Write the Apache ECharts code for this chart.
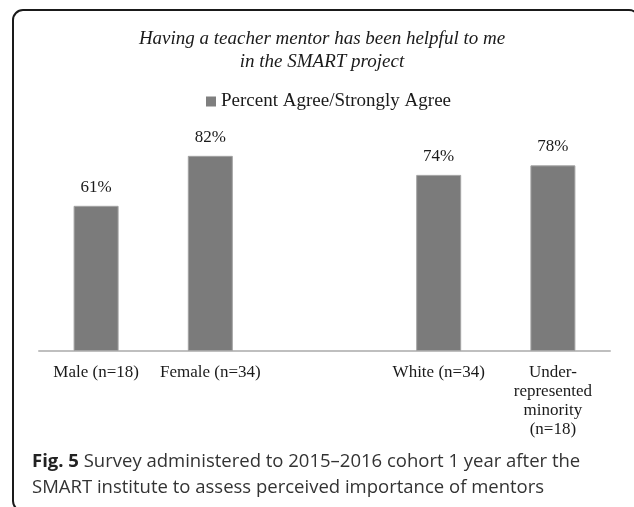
<!DOCTYPE html>
<html>
<head>
<meta charset="utf-8">
<style>
  html, body { margin: 0; padding: 0; background: #ffffff; }
  #chart { width: 634px; height: 507px; }
</style>
<script src="https://cdn.jsdelivr.net/npm/echarts@6/dist/echarts.min.js"></script>
</head>
<body>
<div id="chart"></div>
<script>
// Survey groups (the empty slot separates gender from ethnicity)
const categories = ['Male (n=18)', 'Female (n=34)', '', 'White (n=34)', 'Under-\nrepresented\nminority\n(n=18)'];
const percentAgree = [61, 82, null, 74, 78];
const seriesName = 'Percent Agree/Strongly Agree';
const titleLines = ['Having a teacher mentor has been helpful to me', 'in the SMART project'];
const captionBold = 'Fig. 5';
const captionLines = [' Survey administered to 2015\u20132016 cohort 1 year after the',
                      'SMART institute to assess perceived importance of mentors'];

const serif = '"Liberation Serif", "Times New Roman", serif';
const sans = '"Open Sans", "Noto Sans", sans-serif';

const chart = echarts.init(document.getElementById('chart'), null, { renderer: 'canvas' });

chart.setOption({
  backgroundColor: '#ffffff',
  animation: false,
  grid: { left: 39, right: 24, top: 113, bottom: 156, containLabel: false },
  legend: {
    data: [seriesName],
    left: 201,
    top: 87,
    icon: 'rect',
    itemWidth: 10,
    itemHeight: 10,
    itemGap: 4,
    itemStyle: { color: '#7f7f7f', borderWidth: 0 },
    textStyle: { fontFamily: serif, fontSize: 19, color: '#1a1a1a' }
  },
  xAxis: {
    type: 'category',
    data: categories,
    axisLine: { show: true, lineStyle: { color: '#bfbfbf', width: 2 } },
    axisTick: { show: false },
    axisLabel: {
      interval: 0,
      margin: 12,
      fontFamily: serif,
      fontSize: 17,
      lineHeight: 19,
      color: '#1a1a1a',
      align: 'center'
    }
  },
  yAxis: {
    type: 'value',
    min: 0,
    max: 100,
    show: false,
    splitLine: { show: false }
  },
  series: [{
    name: seriesName,
    type: 'bar',
    data: percentAgree,
    barWidth: 45,
    itemStyle: { color: '#7b7b7b', borderColor: '#a3a3a3', borderWidth: 1 },
    label: {
      show: true,
      position: 'top',
      distance: 10,
      formatter: p => p.value + '%',
      fontFamily: serif,
      fontSize: 17,
      color: '#1a1a1a'
    }
  }],
  graphic: [
    {
      type: 'rect',
      shape: { x: 13, y: 10, width: 626, height: 501, r: 10 },
      style: { fill: 'none', stroke: '#1a1a1a', lineWidth: 2 },
      silent: true
    },
    {
      type: 'text',
      x: 322, y: 39,
      style: {
        text: titleLines[0], fontFamily: serif, fontStyle: 'italic', fontSize: 19,
        fill: '#1a1a1a', align: 'center', verticalAlign: 'middle'
      }
    },
    {
      type: 'text',
      x: 322, y: 62,
      style: {
        text: titleLines[1], fontFamily: serif, fontStyle: 'italic', fontSize: 19,
        fill: '#1a1a1a', align: 'center', verticalAlign: 'middle'
      }
    },
    {
      type: 'text',
      x: 32, y: 462,
      style: {
        text: '{b|' + captionBold + '}{n|' + captionLines[0] + '}',
        verticalAlign: 'middle',
        rich: {
          b: { fontFamily: sans, fontWeight: 'bold', fontSize: 18.5, fill: '#222' },
          n: { fontFamily: sans, fontSize: 18.5, fill: '#333' }
        }
      }
    },
    {
      type: 'text',
      x: 32, y: 488,
      style: {
        text: captionLines[1], fontFamily: sans, fontSize: 18.5, fill: '#333',
        verticalAlign: 'middle'
      }
    }
  ]
});
</script>
</body>
</html>
